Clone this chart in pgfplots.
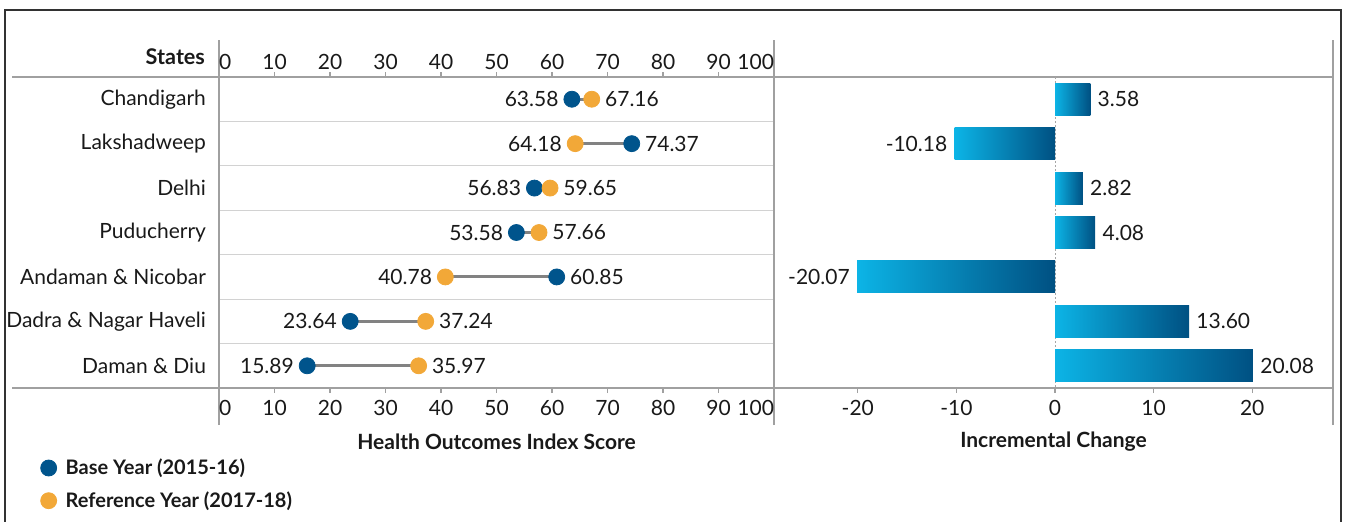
\documentclass[border=0pt]{standalone}
\usepackage{fontspec}
\setmainfont{Lato}
\usepackage{pgfplots}
\pgfplotsset{compat=1.18}
\definecolor{baseblue}{RGB}{0,84,140}
\definecolor{reforange}{RGB}{242,168,56}
\definecolor{barL}{RGB}{12,180,230}
\definecolor{barR}{RGB}{0,80,130}
\definecolor{axgray}{RGB}{160,160,160}
\definecolor{gridgray}{RGB}{210,210,210}
\definecolor{connect}{RGB}{130,130,130}
\definecolor{framec}{RGB}{50,50,50}
\definecolor{txt}{RGB}{25,25,25}

\pgfplotsset{
  panel/.style={
    scale only axis, anchor=south west, height=155.5pt,
    ymin=-0.5, ymax=6.5, y dir=reverse, enlargelimits=false, clip=false,
    axis line style={draw=axgray, line width=0.8pt},
    tick align=outside, major tick length=2.5pt,
    tick style={axgray, line width=0.6pt},
    ytick style={draw=none},
    minor ytick={0.5,1.5,...,5.5}, yminorgrids=true,
    minor grid style={gridgray, line width=0.6pt},
    minor tick length=0pt,
    tick label style={text=txt},
  },
  dotlab/.style={
    nodes near coords, point meta=explicit symbolic,
    visualization depends on={value \thisrow{anc} \as \anc},
    every node near coord/.append style={anchor=\anc, text=txt, inner xsep=6.5pt, inner ysep=0pt},
  },
  barst/.style={
    xbar, bar width=16pt, bar shift=0pt, draw=none, left color=barL, right color=barR, forget plot,
    nodes near coords, point meta=explicit symbolic,
    every node near coord/.append style={anchor=#1, text=txt, inner xsep=3.5pt, inner ysep=0pt},
  },
}

\begin{document}
\begin{tikzpicture}[font=\fontsize{10.5}{12.6}\selectfont, text=txt]
\path[use as bounding box] (0,0) rectangle (673.5pt,260.5pt);
\draw[framec, line width=1pt] (2.5pt,-1pt) -- (2.5pt,255.5pt) -- (670.5pt,255.5pt) -- (670.5pt,-1pt);
% extensions of frame lines
\draw[axgray, line width=0.8pt] (6pt,222pt) -- (109.5pt,222pt);
\draw[axgray, line width=0.8pt] (6pt,66.5pt) -- (109.5pt,66.5pt);
\foreach \xx in {109.5,387,666.5}{
  \draw[axgray, line width=0.8pt] (\xx pt,48pt) -- (\xx pt,240.5pt);
}

% ---------- left panel ----------
\begin{axis}[panel, at={(109.5pt,66.5pt)}, width=277.5pt,
  xmin=0, xmax=100, xtick={0,10,...,100},
  xticklabels={\makebox[0pt][l]{0},10,20,30,40,50,60,70,80,90,\makebox[0pt][r]{100}},
  ytick={0,1,...,6},
  yticklabels={Chandigarh,Lakshadweep,Delhi,Puducherry,Andaman \& Nicobar,Dadra \& Nagar Haveli,Daman \& Diu},
  yticklabel style={xshift=-0.5pt},
  xlabel={\bfseries Health Outcomes Index Score},
  x label style={at={(axis description cs:0.5,-0.172)}, anchor=center},
  legend style={at={(axis description cs:-0.322,-0.213)}, anchor=north west, draw=none, fill=none,
     font=\bfseries, row sep=3pt, column sep=2.5pt, inner sep=0pt},
  legend cell align=left,
]
\addplot[connect, line width=1.5pt, forget plot] coordinates {(63.58,0) (67.16,0)};
\addplot[connect, line width=1.5pt, forget plot] coordinates {(64.18,1) (74.37,1)};
\addplot[connect, line width=1.5pt, forget plot] coordinates {(56.83,2) (59.65,2)};
\addplot[connect, line width=1.5pt, forget plot] coordinates {(53.58,3) (57.66,3)};
\addplot[connect, line width=1.5pt, forget plot] coordinates {(40.78,4) (60.85,4)};
\addplot[connect, line width=1.5pt, forget plot] coordinates {(23.64,5) (37.24,5)};
\addplot[connect, line width=1.5pt, forget plot] coordinates {(15.89,6) (35.97,6)};
\addplot[only marks, mark=*, mark size=4pt, color=baseblue, dotlab] table[x=x, y=y, meta=lab] {
x y lab anc
63.58 0 63.58 east
74.37 1 74.37 west
56.83 2 56.83 east
53.58 3 53.58 east
60.85 4 60.85 west
23.64 5 23.64 east
15.89 6 15.89 east
};
\addlegendentry{Base Year (2015-16)}
\addplot[only marks, mark=*, mark size=4pt, color=reforange, dotlab] table[x=x, y=y, meta=lab] {
x y lab anc
67.16 0 67.16 west
64.18 1 64.18 east
59.65 2 59.65 west
57.66 3 57.66 west
40.78 4 40.78 east
37.24 5 37.24 west
35.97 6 35.97 west
};
\addlegendentry{Reference Year (2017-18)}
\end{axis}

% top tick labels of left panel
\begin{axis}[scale only axis, anchor=south west, at={(109.5pt,66.5pt)}, width=277.5pt, height=155.5pt,
  xmin=0, xmax=100, ymin=0, ymax=1, xtick={0,10,...,100},
  xticklabels={\makebox[0pt][l]{0},10,20,30,40,50,60,70,80,90,\makebox[0pt][r]{100}},
  xticklabel pos=upper, ytick=\empty, axis line style={draw=none}, major tick length=0pt,
  tick label style={text=txt}]
\end{axis}
\node[anchor=east, font=\fontsize{10.8}{12.6}\selectfont\bfseries] at (106pt,232pt) {States};

% ---------- right panel ----------
\begin{axis}[panel, at={(387pt,66.5pt)}, width=279.5pt,
  xmin=-28.5, xmax=28.2, xtick={-20,-10,0,10,20},
  xticklabels={-20,-10,0,10,20}, xtick pos=left,
  ytick=\empty,
  xlabel={\bfseries Incremental Change},
  x label style={at={(axis description cs:0.5,-0.172)}, anchor=center},
]
\addplot[gray!70, line width=0.5pt, dash pattern=on 1pt off 1pt] coordinates {(0,-0.5) (0,6.5)};
\addplot[barst=west] coordinates {(3.58,0) [3.58]};
\addplot[barst=east] coordinates {(-10.18,1) [-10.18]};
\addplot[barst=west] coordinates {(2.82,2) [2.82]};
\addplot[barst=west] coordinates {(4.08,3) [4.08]};
\addplot[barst=east] coordinates {(-20.07,4) [-20.07]};
\addplot[barst=west] coordinates {(13.60,5) [13.60]};
\addplot[barst=west] coordinates {(20.08,6) [20.08]};
\end{axis}
\end{tikzpicture}
\end{document}
